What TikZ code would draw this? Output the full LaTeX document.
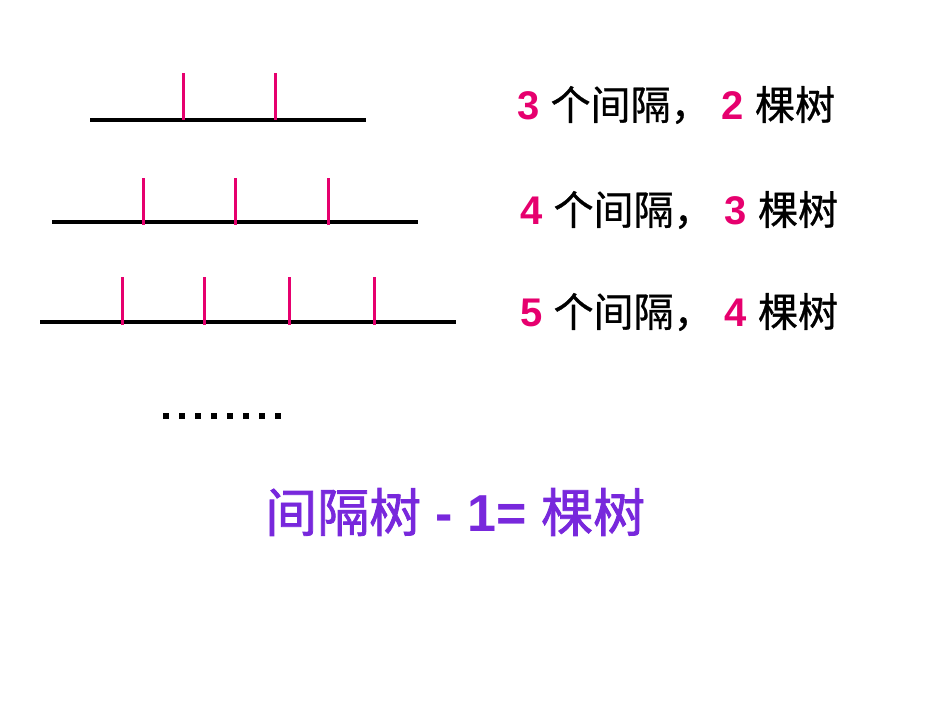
\documentclass[tikz,border=0pt]{standalone}
\usepackage{fontspec}
\setmainfont{Liberation Sans}
\newfontfamily\cjk[FakeBold=0.8]{Noto Sans CJK SC}
\newfontfamily\cjkb[FakeBold=1.5]{Noto Sans CJK SC}
\definecolor{pk}{RGB}{230,0,110}
\definecolor{pu}{RGB}{120,40,220}
\begin{document}
\begin{tikzpicture}[x=1pt,y=-1pt,
  base/.style={line width=3.5pt,black},
  tree/.style={line width=3pt,pk},
  lbl/.style={anchor=west,inner sep=0pt,font=\fontsize{40}{40}\selectfont}]
\useasboundingbox (0,0) rectangle (950,713);
% row 1
\coordinate (a1) at (90,120); \coordinate (a2) at (366,120);
\draw[base] (a1) -- (a2);
\foreach \x in {183,275} \draw[tree] (\x,73) -- (\x,120);
% row 2
\coordinate (b1) at (52,222); \coordinate (b2) at (418,222);
\draw[base] (b1) -- (b2);
\foreach \x in {143,235,328} \draw[tree] (\x,178) -- (\x,225);
% row 3
\coordinate (c1) at (40,322); \coordinate (c2) at (456,322);
\draw[base] (c1) -- (c2);
\foreach \x in {122,204,289,374} \draw[tree] (\x,277) -- (\x,325);
% dots
\foreach \x in {163,179,...,280} \fill (\x,413) rectangle ++(6,6);
% labels
\node[lbl] (t1) at (517,105) {\textbf{\color{pk}3} {\cjk 个间隔，} \textbf{\color{pk}2} {\cjk 棵树}};
\node[lbl] (t2) at (520,210) {\textbf{\color{pk}4} {\cjk 个间隔，} \textbf{\color{pk}3} {\cjk 棵树}};
\node[lbl] (t3) at (520,312) {\textbf{\color{pk}5} {\cjk 个间隔，} \textbf{\color{pk}4} {\cjk 棵树}};
\node[anchor=west,inner sep=0pt,text=pu,font=\fontsize{52}{52}\selectfont] (f) at (265,512) {{\cjkb 间隔树} \textbf{- 1=} {\cjkb 棵树}};
\end{tikzpicture}
\end{document}
